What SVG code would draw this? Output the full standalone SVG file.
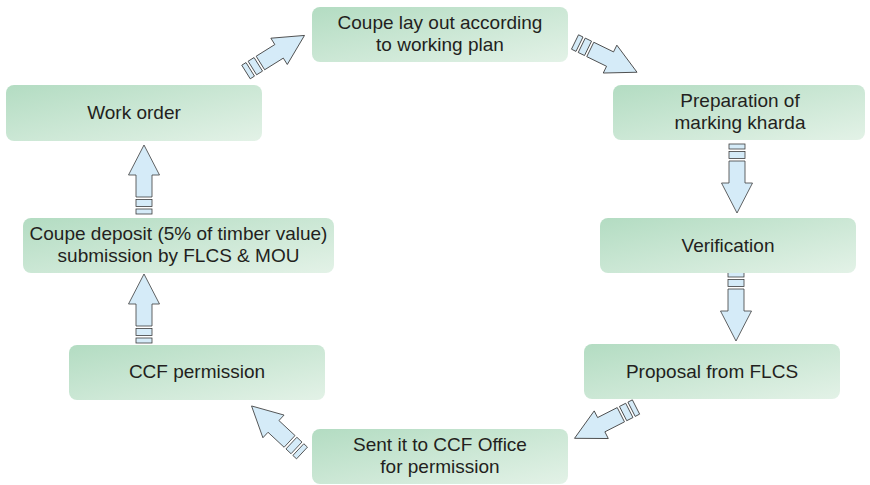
<svg xmlns="http://www.w3.org/2000/svg" xmlns:xlink="http://www.w3.org/1999/xlink" width="870" height="485" viewBox="0 0 870 485">
<style>
.box{fill:url(#g);}
.t{font-family:"Liberation Sans",Arial,sans-serif;font-size:19px;fill:#231f20;text-anchor:middle;}
.ar{fill:#d5ebf8;stroke:#3c3c3c;stroke-width:0.8;stroke-linejoin:miter;}
</style>
<defs>
<linearGradient id="g" x1="0" y1="0" x2="1" y2="1">
<stop offset="0" stop-color="#b3dcc2"/>
<stop offset="1" stop-color="#e3f2e7"/>
</linearGradient>
<g id="arrow">
<rect class="ar" x="0" y="-8" width="5" height="16"/>
<rect class="ar" x="7.5" y="-8" width="7" height="16"/>
<polygon class="ar" points="17,-8 39,-8 39,-15.5 69,0 39,15.5 39,8 17,8"/>
</g>
</defs>
<rect width="870" height="485" fill="#ffffff"/>
<g id="connectors">
<use xlink:href="#arrow" transform="translate(246,72) rotate(-32)"/>
<use xlink:href="#arrow" transform="translate(575,42) rotate(26)"/>
<use xlink:href="#arrow" transform="translate(737,144) rotate(90)"/>
<use xlink:href="#arrow" transform="translate(736,272) rotate(90)"/>
<use xlink:href="#arrow" transform="translate(636,407) rotate(153)"/>
<use xlink:href="#arrow" transform="translate(302,453) rotate(-137)"/>
<use xlink:href="#arrow" transform="translate(144,343) rotate(-90)"/>
<use xlink:href="#arrow" transform="translate(144,214) rotate(-90)"/>
</g>
<g id="node-coupe-layout">
<rect class="box" x="312" y="7" width="256" height="55" rx="8"/>
<text class="t" x="440" y="29">Coupe lay out according</text>
<text class="t" x="440" y="51">to working plan</text>
</g>
<g id="node-preparation">
<rect class="box" x="613" y="85" width="252" height="55" rx="8"/>
<text class="t" x="740" y="107">Preparation of</text>
<text class="t" x="740" y="129">marking kharda</text>
</g>
<g id="node-verification">
<rect class="box" x="600" y="218" width="256" height="55" rx="8"/>
<text class="t" x="728" y="252">Verification</text>
</g>
<g id="node-proposal">
<rect class="box" x="584" y="344" width="256" height="55" rx="8"/>
<text class="t" x="712" y="378">Proposal from FLCS</text>
</g>
<g id="node-sent">
<rect class="box" x="312" y="429" width="256" height="55" rx="8"/>
<text class="t" x="440" y="451">Sent it to CCF Office</text>
<text class="t" x="440" y="473">for permission</text>
</g>
<g id="node-ccf">
<rect class="box" x="69" y="345" width="256" height="55" rx="8"/>
<text class="t" x="197" y="378">CCF permission</text>
</g>
<g id="node-deposit">
<rect class="box" x="23" y="218" width="311" height="55" rx="8"/>
<text class="t" x="178.5" y="240">Coupe deposit (5% of timber value)</text>
<text class="t" x="178.5" y="262">submission by FLCS &amp; MOU</text>
</g>
<g id="node-workorder">
<rect class="box" x="6" y="85" width="256" height="56" rx="8"/>
<text class="t" x="134" y="119">Work order</text>
</g>
</svg>
